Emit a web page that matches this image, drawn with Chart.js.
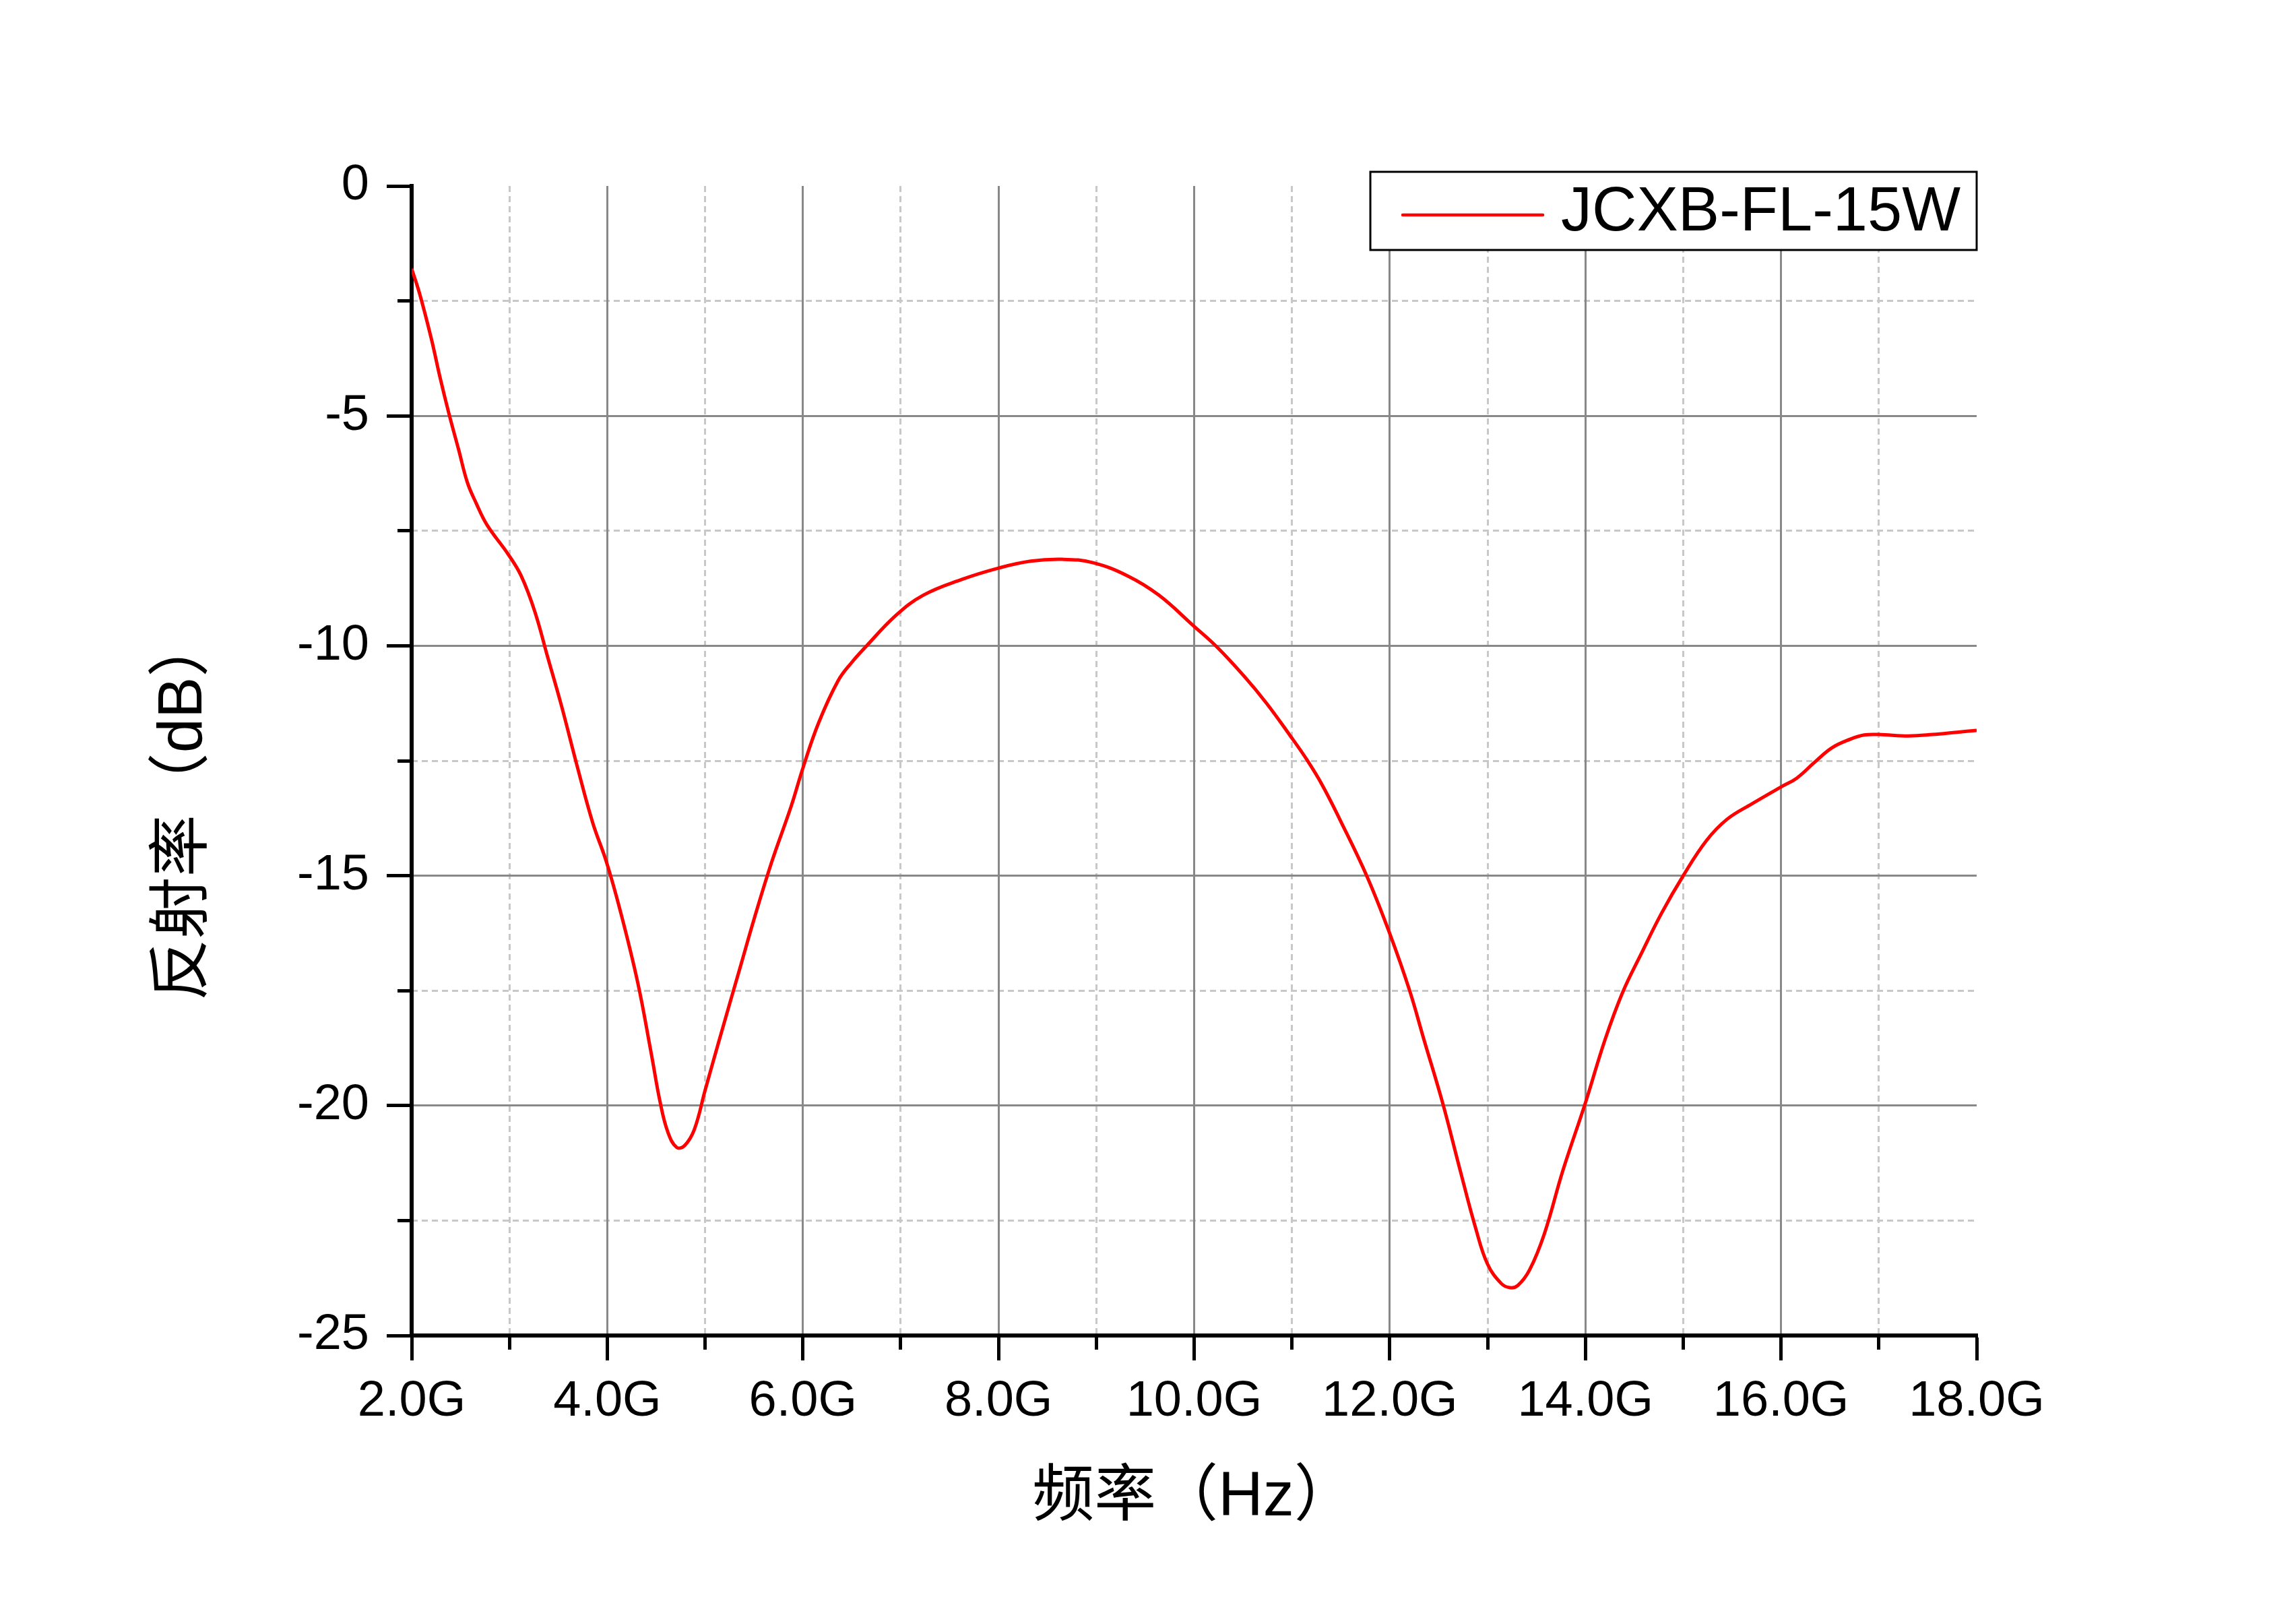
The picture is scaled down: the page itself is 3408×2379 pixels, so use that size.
<!DOCTYPE html>
<html>
<head>
<meta charset="utf-8">
<title>反射率</title>
<script src="https://cdn.jsdelivr.net/npm/chart.js@4.4.1/dist/chart.umd.min.js"></script>
<style>
  html, body { margin: 0; padding: 0; background: #fff; }
  #wrap { width: 3408px; height: 2379px; }
</style>
</head>
<body>
<div id="wrap"><canvas id="chart" width="3408" height="2379"></canvas></div>
<script>
// frequency (GHz) and reflectivity (dB)
const freqGHz = [
    2.00, 2.08, 2.20, 2.29, 2.38, 2.48, 2.57, 2.66, 2.77, 2.99,
    3.12, 3.26, 3.39, 3.53, 3.69, 3.85, 3.99, 4.13, 4.31, 4.45,
    4.54, 4.62, 4.71, 4.79, 4.89, 5.00, 5.14, 5.37, 5.50, 5.68,
    5.88, 6.00, 6.16, 6.36, 6.50, 6.63, 6.95, 7.23, 7.62, 8.00,
    8.33, 8.65, 8.96, 9.32, 9.64, 9.99, 10.23, 10.51, 10.74, 10.98,
    11.15, 11.31, 11.49, 11.77, 12.00, 12.20, 12.35, 12.54, 12.72, 12.88,
    13.00, 13.14, 13.23, 13.31, 13.43, 13.58, 13.77, 14.00, 14.20, 14.38,
    14.57, 14.78, 15.00, 15.24, 15.45, 15.70, 16.00, 16.16, 16.34, 16.52,
    16.71, 16.85, 17.00, 17.30, 17.55, 17.80, 18.00
];
const reflectDb = [
    -1.80, -2.33, -3.31, -4.16, -4.94, -5.73, -6.45, -6.90, -7.37, -8.02,
    -8.48, -9.26, -10.24, -11.29, -12.60, -13.84, -14.69, -15.74, -17.31, -18.87,
    -19.92, -20.58, -20.91, -20.87, -20.52, -19.67, -18.61, -16.91, -15.95, -14.71,
    -13.49, -12.66, -11.68, -10.76, -10.36, -10.05, -9.34, -8.90, -8.56, -8.31,
    -8.16, -8.12, -8.19, -8.48, -8.90, -9.56, -10.02, -10.66, -11.25, -11.95,
    -12.47, -13.03, -13.78, -15.03, -16.26, -17.48, -18.57, -19.94, -21.41, -22.68,
    -23.45, -23.87, -23.96, -23.91, -23.57, -22.79, -21.41, -19.94, -18.57, -17.54,
    -16.70, -15.81, -15.00, -14.23, -13.77, -13.44, -13.07, -12.88, -12.54, -12.22,
    -12.03, -11.94, -11.93, -11.96, -11.93, -11.88, -11.84
];

const seriesName = 'JCXB-FL-15W';
const xTitle = '频率（Hz）';
const yTitle = '反射率（dB）';

// axis ranges and tick steps (major / minor)
const xRange = [2, 18];
const xSteps = [2, 1];
const yRange = [-25, 0];
const ySteps = [5, 2.5];

const latinFont = '"Liberation Sans", Arial, sans-serif';
const titleFont = '"Liberation Sans", "Noto Sans CJK SC", sans-serif';

const isMajor = (v, step) => Math.abs(v / step - Math.round(v / step)) < 1e-6;
const clear = 'rgba(0,0,0,0)';

// legend with a frame, drawn inside the plot at the top right
const framedLegend = {
    id: 'framedLegend',
    afterDraw(chart) {
        const { ctx, chartArea } = chart;
        const ds = chart.data.datasets[0];
        ctx.save();
        ctx.font = '92px ' + latinFont;
        const tw = ctx.measureText(ds.label).width;
        const w = 48 + 208 + 27 + tw + 24;
        const h = 116;
        const left = chartArea.right - w;
        const top = chartArea.top - 21;
        ctx.fillStyle = '#fff';
        ctx.fillRect(left, top, w, h);
        ctx.lineWidth = 3;
        ctx.strokeStyle = '#000';
        ctx.strokeRect(left, top, w, h);
        ctx.beginPath();
        ctx.lineCap = 'round';
        ctx.lineWidth = 4.5;
        ctx.strokeStyle = ds.borderColor;
        ctx.moveTo(left + 48, top + 64);
        ctx.lineTo(left + 256, top + 64);
        ctx.stroke();
        ctx.fillStyle = '#000';
        ctx.textAlign = 'left';
        ctx.textBaseline = 'middle';
        ctx.fillText(ds.label, left + 283, top + 62);

        // y axis title, sits a bit below the axis centre in the original
        ctx.translate(chartArea.left - 337, (chartArea.top + chartArea.bottom) / 2 + 70);
        ctx.rotate(-Math.PI / 2);
        ctx.font = '92px ' + titleFont;
        ctx.textAlign = 'center';
        ctx.fillText(yTitle, 0, 0);
        ctx.restore();
    }
};

new Chart(document.getElementById('chart'), {
    type: 'line',
    data: {
        datasets: [{
            label: seriesName,
            data: freqGHz.map((f, i) => ({ x: f, y: reflectDb[i] })),
            borderColor: '#ff0000',
            borderWidth: 5,
            pointRadius: 0,
            fill: false,
            tension: 0.4
        }]
    },
    options: {
        responsive: false,
        devicePixelRatio: 1,
        animation: false,
        layout: { padding: { left: 200, top: 276, right: 474, bottom: 100 } },
        plugins: { legend: { display: false }, tooltip: { enabled: false } },
        scales: {
            // minor dashed grid lines
            xMinor: {
                type: 'linear', axis: 'x', position: 'bottom',
                min: xRange[0], max: xRange[1],
                ticks: { display: false, stepSize: xSteps[1] },
                grid: {
                    drawTicks: false, lineWidth: 3,
                    color: c => isMajor(c.tick.value, xSteps[0]) ? clear : '#c8c8c8'
                },
                border: { display: false, dash: [9, 6] },
                afterFit: s => { s.height = 0; }
            },
            yMinor: {
                type: 'linear', axis: 'y', position: 'left',
                min: yRange[0], max: yRange[1],
                ticks: { display: false, stepSize: ySteps[1] },
                grid: {
                    drawTicks: false, lineWidth: 3,
                    color: c => isMajor(c.tick.value, ySteps[0]) ? clear : '#c8c8c8'
                },
                border: { display: false, dash: [9, 6] },
                afterFit: s => { s.width = 0; }
            },
            x: {
                type: 'linear', position: 'bottom',
                min: xRange[0], max: xRange[1],
                ticks: {
                    stepSize: xSteps[1], autoSkip: false, maxRotation: 0, minRotation: 0,
                    padding: 17, color: '#000',
                    font: { family: latinFont, size: 74 },
                    callback: v => isMajor(v, xSteps[0]) ? v.toFixed(1) + 'G' : ''
                },
                grid: {
                    lineWidth: 3,
                    color: c => (isMajor(c.tick.value, xSteps[0]) && c.tick.value !== xRange[0] && c.tick.value !== xRange[1]) ? '#888888' : clear,
                    tickColor: '#000', tickWidth: 5, tickLength: 37,
                    tickBorderDash: c => isMajor(c.tick.value, xSteps[0]) ? [] : [18, 200]
                },
                border: { display: true, color: '#000', width: 6 },
                title: {
                    display: true, text: xTitle, color: '#000',
                    font: { family: titleFont, size: 92 },
                    padding: { top: 0, bottom: 0 }
                },
                afterFit: s => { s.height = 297; }
            },
            y: {
                type: 'linear', position: 'left',
                min: yRange[0], max: yRange[1],
                ticks: {
                    stepSize: ySteps[1], autoSkip: false,
                    padding: 26, color: '#000',
                    font: { family: latinFont, size: 74 },
                    callback: v => isMajor(v, ySteps[0]) ? String(v) : ''
                },
                grid: {
                    lineWidth: 3,
                    color: c => (isMajor(c.tick.value, ySteps[0]) && c.tick.value !== yRange[0] && c.tick.value !== yRange[1]) ? '#888888' : clear,
                    tickColor: '#000', tickWidth: 5, tickLength: 37,
                    // left ticks are stroked from the outer end inwards: keep the inner part
                    tickBorderDash: c => isMajor(c.tick.value, ySteps[0]) ? [] : [0, 16, 18, 200]
                },
                border: { display: true, color: '#000', width: 6 },
                afterFit: s => { s.width = 411; }
            }
        }
    },
    plugins: [framedLegend]
});
</script>
</body>
</html>
